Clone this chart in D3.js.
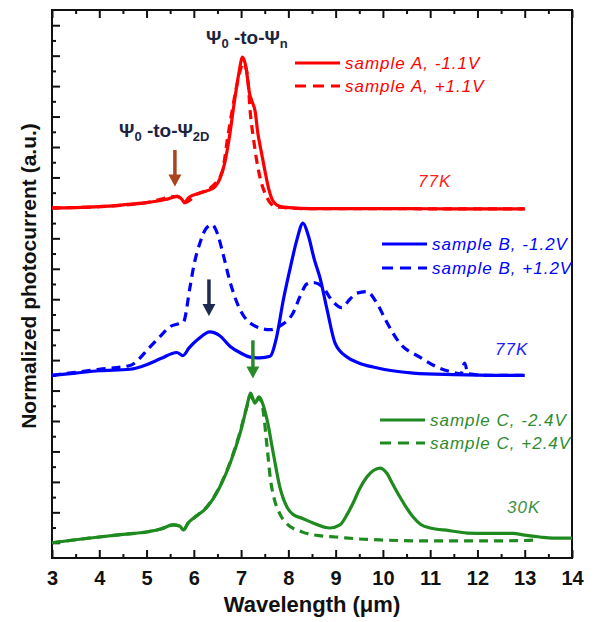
<!DOCTYPE html>
<html>
<head>
<meta charset="utf-8">
<script src="https://cdn.jsdelivr.net/npm/d3@7"></script>
<style>
  body { margin: 0; background: #fff; }
  svg { display: block; font-family: "Liberation Sans", Arial, sans-serif; }
</style>
</head>
<body>
<div id="chart"></div>
<script>
// photocurrent spectra — three samples, two biases each, offset vertically
const xTicks = [3, 4, 5, 6, 7, 8, 9, 10, 11, 12, 13, 14];

const redSolid = [[3.0, 23.0], [3.5, 23.02], [4.0, 23.08], [4.5, 23.2], [5.0, 23.35], [5.4, 23.55], [5.65, 23.75],
  [5.75, 23.55], [5.8, 23.35], [5.9, 23.7], [6.1, 23.95], [6.3, 24.15], [6.45, 24.4], [6.55, 24.9], [6.65, 25.9],
  [6.75, 27.6], [6.85, 29.8], [6.95, 31.8], [7.03, 32.9], [7.1, 32.3], [7.18, 30.5], [7.23, 30.0], [7.3, 29.3],
  [7.35, 28.0], [7.42, 26.8], [7.5, 25.5], [7.58, 24.3], [7.65, 23.6], [7.75, 23.2], [7.9, 23.05], [8.5, 22.95],
  [9.5, 22.95], [10.5, 22.95], [11.5, 22.93], [12.5, 22.93], [13.0, 22.93]];

const redDashed = [[3.0, 23.0], [4.0, 23.08], [5.0, 23.35], [5.65, 23.75], [5.8, 23.35], [6.1, 23.95], [6.3, 24.2],
  [6.45, 24.6], [6.55, 25.0], [6.62, 25.6], [6.7, 27.3], [6.8, 29.2], [6.9, 30.9], [6.98, 32.0], [7.04, 32.5],
  [7.1, 32.2], [7.15, 31.2], [7.19, 29.4], [7.26, 27.6], [7.32, 26.3], [7.4, 25.0], [7.5, 24.0], [7.6, 23.4],
  [7.75, 23.05], [8.5, 22.95], [10.0, 22.95], [11.5, 22.93], [13.0, 22.93]];

const blueSolid = [[3.0, 12.0], [3.5, 12.15], [4.0, 12.3], [4.65, 12.4], [5.0, 12.7], [5.3, 13.1], [5.64, 13.5],
  [5.77, 13.3], [5.9, 13.8], [6.1, 14.4], [6.34, 14.85], [6.55, 14.6], [6.77, 13.9], [7.0, 13.45], [7.19, 13.2],
  [7.4, 13.15], [7.61, 13.25], [7.75, 14.5], [7.89, 16.9], [8.05, 19.2], [8.18, 20.9], [8.31, 22.0], [8.42, 21.2],
  [8.55, 19.6], [8.67, 18.4], [8.82, 16.3], [8.99, 14.1], [9.24, 13.2], [9.5, 12.8], [9.79, 12.55], [10.2, 12.3],
  [10.64, 12.15], [11.5, 12.05], [12.5, 12.0], [13.0, 12.0]];

const blueDashed = [[3.0, 12.0], [3.5, 12.2], [4.0, 12.4], [4.65, 12.65], [5.07, 13.85], [5.3, 14.6], [5.5, 15.2],
  [5.7, 15.4], [5.78, 15.5], [5.92, 17.8], [6.0, 19.2], [6.13, 20.7], [6.25, 21.6], [6.38, 21.9], [6.5, 21.3],
  [6.6, 20.2], [6.77, 18.1], [6.98, 16.3], [7.26, 15.3], [7.61, 15.0], [7.85, 15.3], [8.1, 16.1], [8.25, 17.2],
  [8.39, 18.0], [8.52, 18.1], [8.73, 17.8], [8.88, 17.1], [9.13, 16.45], [9.3, 17.0], [9.45, 17.4], [9.66, 17.5],
  [9.87, 16.75], [10.08, 15.5], [10.36, 14.1], [10.78, 13.2], [11.14, 12.55], [11.48, 12.2], [11.65, 12.1],
  [11.73, 12.8], [11.8, 12.1], [12.2, 12.0], [13.0, 12.0]];

const greenSolid = [[3.0, 1.0], [3.5, 1.2], [4.0, 1.38], [4.5, 1.55], [5.0, 1.71], [5.3, 1.9], [5.56, 2.17],
  [5.7, 2.1], [5.78, 1.84], [5.88, 2.3], [6.0, 2.63], [6.27, 3.3], [6.55, 4.66], [6.77, 6.24], [6.98, 8.21],
  [7.12, 9.92], [7.2, 10.84], [7.29, 10.18], [7.38, 10.58], [7.45, 10.2], [7.55, 9.07], [7.68, 6.9], [7.82, 4.66],
  [7.97, 3.35], [8.1, 2.85], [8.3, 2.6], [8.52, 2.3], [8.88, 1.97], [9.09, 2.17], [9.25, 2.9], [9.37, 3.61],
  [9.5, 4.5], [9.66, 5.32], [9.8, 5.75], [9.94, 5.91], [10.08, 5.58], [10.2, 4.9], [10.36, 4.01], [10.5, 3.3],
  [10.64, 2.69], [10.8, 2.2], [11.0, 1.97], [11.4, 1.8], [11.78, 1.64], [12.2, 1.62], [12.75, 1.62], [13.0, 1.5],
  [13.32, 1.38], [13.6, 1.31], [14.0, 1.31]];

const greenDashed = [[3.0, 1.0], [3.5, 1.2], [4.0, 1.38], [4.5, 1.55], [5.0, 1.71], [5.3, 1.9], [5.56, 2.17],
  [5.7, 2.1], [5.78, 1.84], [5.88, 2.3], [6.0, 2.63], [6.27, 3.35], [6.55, 4.7], [6.77, 6.3], [6.98, 8.3],
  [7.12, 9.92], [7.2, 10.7], [7.29, 10.2], [7.38, 10.5], [7.45, 10.0], [7.55, 7.29], [7.62, 5.2], [7.7, 3.9],
  [7.82, 2.9], [7.95, 2.3], [8.3, 1.7], [8.7, 1.45], [9.0, 1.38], [9.5, 1.25], [10.0, 1.18], [11.0, 1.12],
  [12.0, 1.12], [13.0, 1.15], [13.3, 1.2]];

const seriesNames = ["sample A, -1.1V", "sample A, +1.1V", "sample B, -1.2V", "sample B, +1.2V",
  "sample C, -2.4V", "sample C, +2.4V"];
const seriesData = [redSolid, redDashed, blueSolid, blueDashed, greenSolid, greenDashed];
const seriesColors = ["#ff0000", "#ff0000", "#0000ff", "#0000ff", "#1f8a1f", "#1f8a1f"];
const seriesDashed = [false, true, false, true, false, true];
const temperatures = ["77K", "77K", "30K"];

// arrows: wavelength, tail value, tip value
const arrowX = [5.6, 6.32, 7.25];
const arrowTail = [26.8, 18.3, 14.3];
const arrowTip = [24.4, 15.9, 11.8];
const arrowColors = ["#a8441e", "#1c2a50", "#2a8a2a"];

const width = 595, height = 622;
const margin = { top: 10, right: 23, bottom: 64, left: 52 };
const innerW = width - margin.left - margin.right;
const innerH = height - margin.top - margin.bottom;

const svg = d3.select("#chart").append("svg")
  .attr("width", width)
  .attr("height", height);

const g = svg.append("g").attr("transform", `translate(${margin.left},${margin.top})`);

const x = d3.scaleLinear().domain([3, 14]).range([0, innerW]);
const y = d3.scaleLinear().domain([0, 36]).range([innerH, 0]);

// axes, ticks pointing inward
const xMinor = d3.range(3.5, 14, 1);
g.append("g").attr("class", "ax")
  .attr("transform", `translate(0,${innerH})`)
  .call(d3.axisBottom(x).tickValues(xTicks).tickSize(-8).tickPadding(13).tickFormat(d3.format("d")));
g.append("g").attr("class", "ax")
  .attr("transform", `translate(0,${innerH})`)
  .call(d3.axisBottom(x).tickValues(xMinor).tickSize(-4).tickFormat(""));
g.append("g").attr("class", "ax")
  .call(d3.axisTop(x).tickValues(xTicks).tickSize(-8).tickFormat(""));
g.append("g").attr("class", "ax")
  .call(d3.axisTop(x).tickValues(xMinor).tickSize(-4).tickFormat(""));

const yAll = d3.range(1, 36);
g.append("g").attr("class", "ax")
  .call(d3.axisLeft(y).tickValues(yAll.filter(d => d % 2 === 1)).tickSize(-8).tickFormat(""));
g.append("g").attr("class", "ax")
  .call(d3.axisLeft(y).tickValues(yAll.filter(d => d % 2 === 0)).tickSize(-4).tickFormat(""));

g.selectAll(".ax .domain").remove();
g.selectAll(".ax .tick line").attr("stroke", "#111").attr("stroke-width", 2);
g.selectAll(".ax .tick text")
  .attr("fill", "#111")
  .style("font-size", "20px")
  .style("font-weight", "bold");

g.append("rect")
  .attr("width", innerW)
  .attr("height", innerH)
  .attr("fill", "none")
  .attr("stroke", "#111")
  .attr("stroke-width", 2);

// curves
const line = d3.line()
  .x(d => x(d[0]))
  .y(d => y(d[1]))
  .curve(d3.curveMonotoneX);

seriesData.forEach((data, i) => {
  g.append("path")
    .datum(data)
    .attr("d", line)
    .attr("fill", "none")
    .attr("stroke", seriesColors[i])
    .attr("stroke-width", 3.2)
    .attr("stroke-linejoin", "round")
    .attr("stroke-dasharray", seriesDashed[i] ? "9,6" : null);
});

// arrows
arrowX.forEach((ax, i) => {
  const px = x(ax), y0 = y(arrowTail[i]), y1 = y(arrowTip[i]);
  g.append("line")
    .attr("x1", px).attr("x2", px)
    .attr("y1", y0).attr("y2", y1 - 10)
    .attr("stroke", arrowColors[i])
    .attr("stroke-width", 3.5);
  g.append("path")
    .attr("d", `M${px - 6.5},${y1 - 12} L${px + 6.5},${y1 - 12} L${px},${y1} Z`)
    .attr("fill", arrowColors[i]);
});

// legends (layout positions in pixels)
const legendX = [243, 243, 330, 330, 328, 328];
const legendY = [53, 76, 234, 258, 410, 433];
seriesNames.forEach((name, i) => {
  const lg = g.append("g").attr("transform", `translate(${legendX[i]},${legendY[i]})`);
  lg.append("line")
    .attr("x1", 0).attr("x2", 45)
    .attr("stroke", seriesColors[i])
    .attr("stroke-width", 3.2)
    .attr("stroke-dasharray", seriesDashed[i] ? "11,7" : null);
  lg.append("text")
    .attr("x", 50)
    .attr("y", 6)
    .attr("fill", seriesColors[i] === "#1f8a1f" ? "#2e8b2e" : seriesColors[i])
    .style("font-size", "17px")
    .style("font-style", "italic")
    .style("letter-spacing", "1px")
    .text(name);
});

const tempX = [366, 443, 455];
const tempY = [177, 345, 503];
const tempColors = ["#ff2020", "#2020ff", "#3f8f3f"];
temperatures.forEach((t, i) => {
  g.append("text")
    .attr("x", tempX[i])
    .attr("y", tempY[i])
    .attr("fill", tempColors[i])
    .style("font-size", "17px")
    .style("font-style", "italic")
    .style("letter-spacing", "1px")
    .text(t);
});

// transition labels
function psiLabel(px, py, sub) {
  const t = g.append("text")
    .attr("x", px).attr("y", py)
    .attr("fill", "#1c2440")
    .style("font-size", "19px")
    .style("font-weight", "bold");
  t.append("tspan").text("\u03A8");
  t.append("tspan").attr("dy", 4).style("font-size", "13px").text("0");
  t.append("tspan").attr("dy", -4).text(" -to-\u03A8");
  t.append("tspan").attr("dy", 4).style("font-size", "13px").text(sub);
}
psiLabel(154, 34, "n");
psiLabel(67, 127, "2D");

// axis titles
svg.append("text")
  .attr("x", margin.left + innerW / 2)
  .attr("y", 612)
  .attr("text-anchor", "middle")
  .attr("fill", "#111")
  .style("font-size", "22px")
  .style("font-weight", "bold")
  .text("Wavelength (\u03BCm)");

svg.append("text")
  .attr("transform", "rotate(-90)")
  .attr("x", -276)
  .attr("y", 36)
  .attr("text-anchor", "middle")
  .attr("fill", "#111")
  .style("font-size", "21px")
  .style("font-weight", "bold")
  .text("Normalized photocurrent (a.u.)");
</script>
</body>
</html>
